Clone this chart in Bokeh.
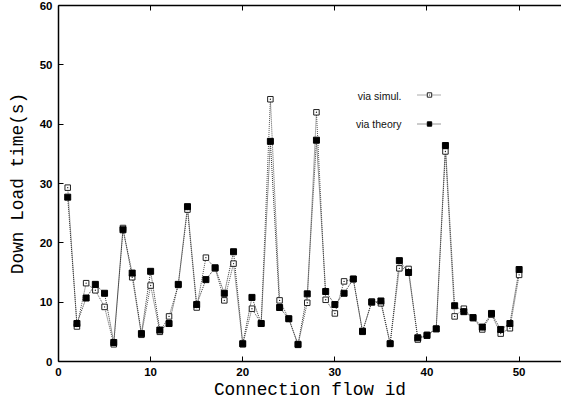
from bokeh.plotting import figure
from bokeh.models import (Range1d, FixedTicker, LinearAxis, Legend, LegendItem, Label)
from bokeh.embed import file_html
from bokeh.resources import INLINE

flow_id = list(range(1, 51))
simul = [29.3, 5.9, 13.2, 12.0, 9.2, 2.9, 22.5, 14.2, 4.5, 12.8,
         5.0, 7.6, 12.9, 25.6, 9.1, 17.5, 15.7, 10.3, 16.5, 2.9,
         8.9, 6.4, 44.2, 10.3, 7.2, 2.8, 9.9, 42.0, 10.4, 8.1,
         13.5, 13.9, 5.0, 10.1, 9.8, 3.0, 15.7, 15.6, 3.7, 4.5,
         5.5, 35.4, 7.6, 8.9, 7.3, 5.4, 7.9, 4.7, 5.6, 14.6]
theory = [27.7, 6.4, 10.7, 13.0, 11.5, 3.2, 22.2, 14.9, 4.7, 15.2,
          5.3, 6.4, 13.0, 26.1, 9.6, 13.8, 15.8, 11.5, 18.5, 3.0,
          10.8, 6.4, 37.1, 9.1, 7.2, 2.9, 11.4, 37.3, 11.8, 9.6,
          11.5, 13.9, 5.1, 10.0, 10.2, 3.0, 17.0, 15.0, 4.0, 4.4,
          5.5, 36.4, 9.4, 8.4, 7.4, 5.8, 8.1, 5.4, 6.4, 15.5]

x_ticks = [0, 10, 20, 30, 40, 50]
y_ticks = [0, 10, 20, 30, 40, 50, 60]

p = figure(width=561, height=403, output_backend="svg", toolbar_location=None,
           x_range=Range1d(0, 54.6), y_range=Range1d(0, 60),
           min_border_left=58, min_border_right=0, min_border_top=5, min_border_bottom=42,
           x_axis_label="Connection flow id", y_axis_label="Down Load time(s)")
p.outline_line_color = None
p.grid.visible = False
p.background_fill_color = "white"
p.border_fill_color = "white"

for ax, ticks in ((p.xaxis[0], x_ticks), (p.yaxis[0], y_ticks)):
    ax.ticker = FixedTicker(ticks=ticks)
    ax.major_tick_in = 5
    ax.major_tick_out = 0
    ax.minor_tick_line_color = None
    ax.axis_line_width = 1.5
    ax.axis_line_color = "black"
    ax.major_tick_line_color = "black"
    ax.major_label_text_font = "Liberation Sans"
    ax.major_label_text_font_style = "bold"
    ax.major_label_text_font_size = "11.5px"
    ax.major_label_text_color = "black"
    ax.major_label_standoff = 6
    ax.axis_label_text_font = "Liberation Mono"
    ax.axis_label_text_font_style = "normal"
    ax.axis_label_text_font_size = "17.8px"
    ax.axis_label_text_color = "black"

p.xaxis[0].axis_label_standoff = 1
p.yaxis[0].axis_label_standoff = 9

top = LinearAxis(ticker=FixedTicker(ticks=x_ticks), major_tick_in=5, major_tick_out=0,
                 minor_tick_line_color=None, axis_line_width=1.5,
                 major_label_overrides={t: "" for t in x_ticks},
                 major_label_standoff=0)
p.add_layout(top, "above")

r_sl = p.line(flow_id, simul, line_color="#555555", line_width=1, line_dash="1 1")
r_tl = p.line(flow_id, theory, line_color="#333333", line_width=1, line_dash="1 1")
r_sm = p.scatter(flow_id, simul, marker="square_dot", size=5.5, line_color="#222222",
                 fill_color="white", line_width=1)
r_tm = p.scatter(flow_id, theory, marker="square", size=6, line_color="black",
                 fill_color="black", line_width=1)

legend = Legend(items=[LegendItem(label="", renderers=[r_sl, r_sm]),
                       LegendItem(label="", renderers=[r_tl, r_tm])],
                location=(359, 232), padding=0, margin=0, spacing=18,
                glyph_width=24, glyph_height=11, label_height=11,
                label_standoff=0,
                border_line_color=None, background_fill_alpha=0)
p.add_layout(legend, "center")

for txt, yy in (("via simul.", 266), ("via theory", 238)):
    p.add_layout(Label(x=343, y=yy, x_units="screen", y_units="screen", text=txt,
                       text_align="right", text_baseline="middle",
                       text_font="Liberation Sans", text_font_size="10.5px",
                       text_color="#111111"))

open("out.html", "w").write(file_html(p, INLINE))
